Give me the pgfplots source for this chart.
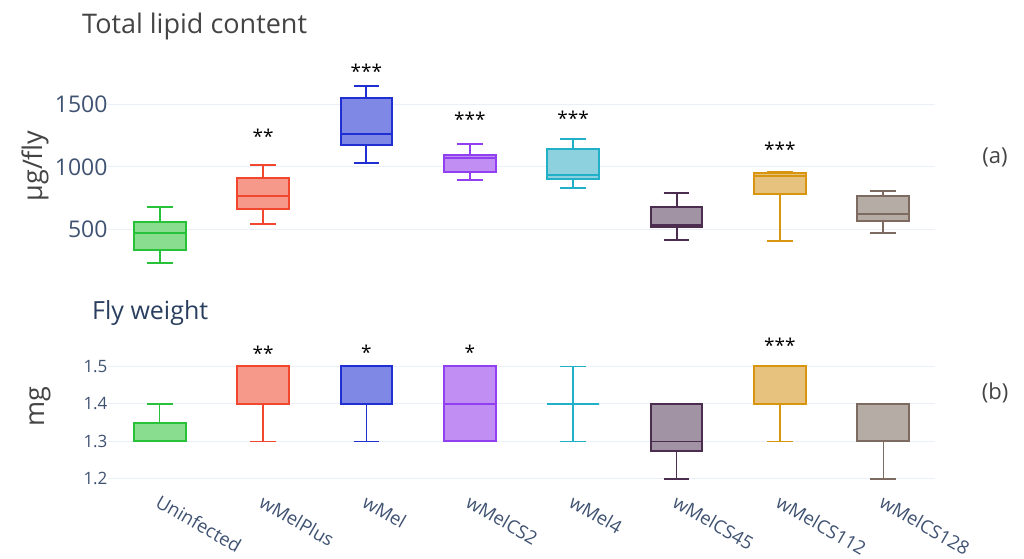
\documentclass[border=0pt]{standalone}
\usepackage{pgfplots}
\pgfplotsset{compat=1.18}
\usepackage{fontspec}
\setmainfont{Open Sans}

\definecolor{tickc}{HTML}{3F5272}
\definecolor{gridc}{HTML}{EBF0F8}
\definecolor{titc}{HTML}{444444}
\definecolor{ttlb}{HTML}{2A3F5F}
\definecolor{cG}{HTML}{27C23A}\definecolor{cGf}{HTML}{89DD8E}
\definecolor{cR}{HTML}{F0472E}\definecolor{cRf}{HTML}{F7998A}
\definecolor{cB}{HTML}{1F2FD2}\definecolor{cBf}{HTML}{7F88E4}
\definecolor{cP}{HTML}{9040F0}\definecolor{cPf}{HTML}{C18EF4}
\definecolor{cC}{HTML}{22B0C8}\definecolor{cCf}{HTML}{8CD1DD}
\definecolor{cD}{HTML}{4B2D50}\definecolor{cDf}{HTML}{A193A3}
\definecolor{cY}{HTML}{D89510}\definecolor{cYf}{HTML}{E6C27E}
\definecolor{cT}{HTML}{7D6B62}\definecolor{cTf}{HTML}{B6ACA6}

% box: position, lower whisker, q1, median, q3, upper whisker, colour
\newcommand\bx[7]{%
  \pgfmathsetmacro\xa{#1-0.25}\pgfmathsetmacro\xb{#1+0.25}%
  \pgfmathsetmacro\ca{#1-0.125}\pgfmathsetmacro\cb{#1+0.125}%
  \edef\tmp{%
    \noexpand\addplot[draw=#7] coordinates {(#1,#5) (#1,#6)};
    \noexpand\addplot[draw=#7] coordinates {(\ca,#6) (\cb,#6)};
    \noexpand\addplot[draw=#7] coordinates {(#1,#3) (#1,#2)};
    \noexpand\addplot[draw=#7] coordinates {(\ca,#2) (\cb,#2)};
    \noexpand\addplot[draw=#7, fill=#7f, line width=2pt] coordinates {(\xa,#3) (\xb,#3) (\xb,#5) (\xa,#5)} -- cycle;
    \noexpand\addplot[draw=#7] coordinates {(\xa,#4) (\xb,#4)};
  }\tmp}

\pgfplotsset{
  panel/.style={
    scale only axis, width=827pt,
    xmin=-0.5, xmax=7.5, xtick={0,...,7},
    axis line style={draw=none}, tick style={draw=none},
    ymajorgrids, grid style={gridc, line width=1pt},
    tick label style={text=tickc},
    yticklabel style={xshift=3pt},
    /pgf/number format/assume math mode=true,
    /pgf/number format/1000 sep={},
    clip=false,
  },
  stars/.style={only marks, mark=none, nodes near coords, point meta=explicit symbolic,
    nodes near coords style={anchor=center, font=\fontsize{19}{19}\selectfont, text=black}},
}

\begin{document}
\begin{tikzpicture}
\useasboundingbox (0,0) rectangle (1024pt,558pt);

% (a) total lipid content
\begin{axis}[panel, at={(108pt,273pt)}, anchor=south west, height=230pt,
  ymin=50, ymax=1900, ytick={500,1000,1500}, xticklabels={},
  yticklabel style={font=\fontsize{23}{23}\selectfont},
  every axis plot/.append style={line width=2pt}]
\bx{0}{226}{334}{471}{560}{677}{cG}
\bx{1}{544}{661}{766}{911}{1019}{cR}
\bx{2}{1035}{1177}{1266}{1554}{1653}{cB}
\bx{3}{898}{955}{1068}{1097}{1188}{cP}
\bx{4}{828}{901}{933}{1143}{1226}{cC}
\bx{5}{409}{516}{530}{677}{786}{cD}
\bx{6}{407}{782}{925}{949}{955}{cY}
\bx{7}{466}{565}{619}{766}{807}{cT}
\addplot[stars] coordinates {(1,1250)[**] (2,1766)[***] (3,1380)[***] (4,1388)[***] (6,1138)[***]};
\end{axis}

% (b) fly weight
\begin{axis}[panel, at={(108pt,68pt)}, anchor=south west, height=150pt,
  ymin=1.17, ymax=1.57, ytick={1.2,1.3,1.4,1.5},
  yticklabel style={font=\fontsize{17}{17}\selectfont, /pgf/number format/.cd, fixed, fixed zerofill, precision=1},
  xticklabels={Uninfected,wMelPlus,wMel,wMelCS2,wMel4,wMelCS45,wMelCS112,wMelCS128},
  xticklabel style={font=\fontsize{18.5}{18.5}\selectfont, rotate=-30, anchor=north west, xshift=0pt, yshift=1pt},
  every axis plot/.append style={line width=1.5pt}]
\bx{0}{1.3}{1.3}{1.3}{1.35}{1.4}{cG}
\bx{1}{1.3}{1.4}{1.5}{1.5}{1.5}{cR}
\bx{2}{1.3}{1.4}{1.4}{1.5}{1.5}{cB}
\bx{3}{1.3}{1.3}{1.4}{1.5}{1.5}{cP}
\bx{4}{1.3}{1.4}{1.4}{1.4}{1.5}{cC}
\bx{5}{1.2}{1.275}{1.3}{1.4}{1.4}{cD}
\bx{6}{1.3}{1.4}{1.5}{1.5}{1.5}{cY}
\bx{7}{1.2}{1.3}{1.3}{1.4}{1.4}{cT}
\addplot[stars] coordinates {(1,1.535)[**] (2,1.538)[*] (3,1.538)[*] (6,1.555)[***]};
\end{axis}

\node[anchor=base west, inner sep=0pt, text=titc, font=\fontsize{27}{27}\selectfont] at (82pt,524pt) {Total lipid content};
\node[anchor=base west, inner sep=0pt, text=ttlb, font=\fontsize{25}{25}\selectfont] at (92pt,239pt) {Fly weight};
\node[rotate=90, text=titc, font=\fontsize{27}{27}\selectfont] at (35pt,392pt) {µg/fly};
\node[rotate=90, text=titc, font=\fontsize{27}{27}\selectfont] at (40pt,151pt) {mg};
\node[text=titc, font=\fontsize{22}{22}\selectfont] at (995pt,401pt) {(a)};
\node[text=titc, font=\fontsize{22}{22}\selectfont] at (995pt,165pt) {(b)};
\end{tikzpicture}
\end{document}
